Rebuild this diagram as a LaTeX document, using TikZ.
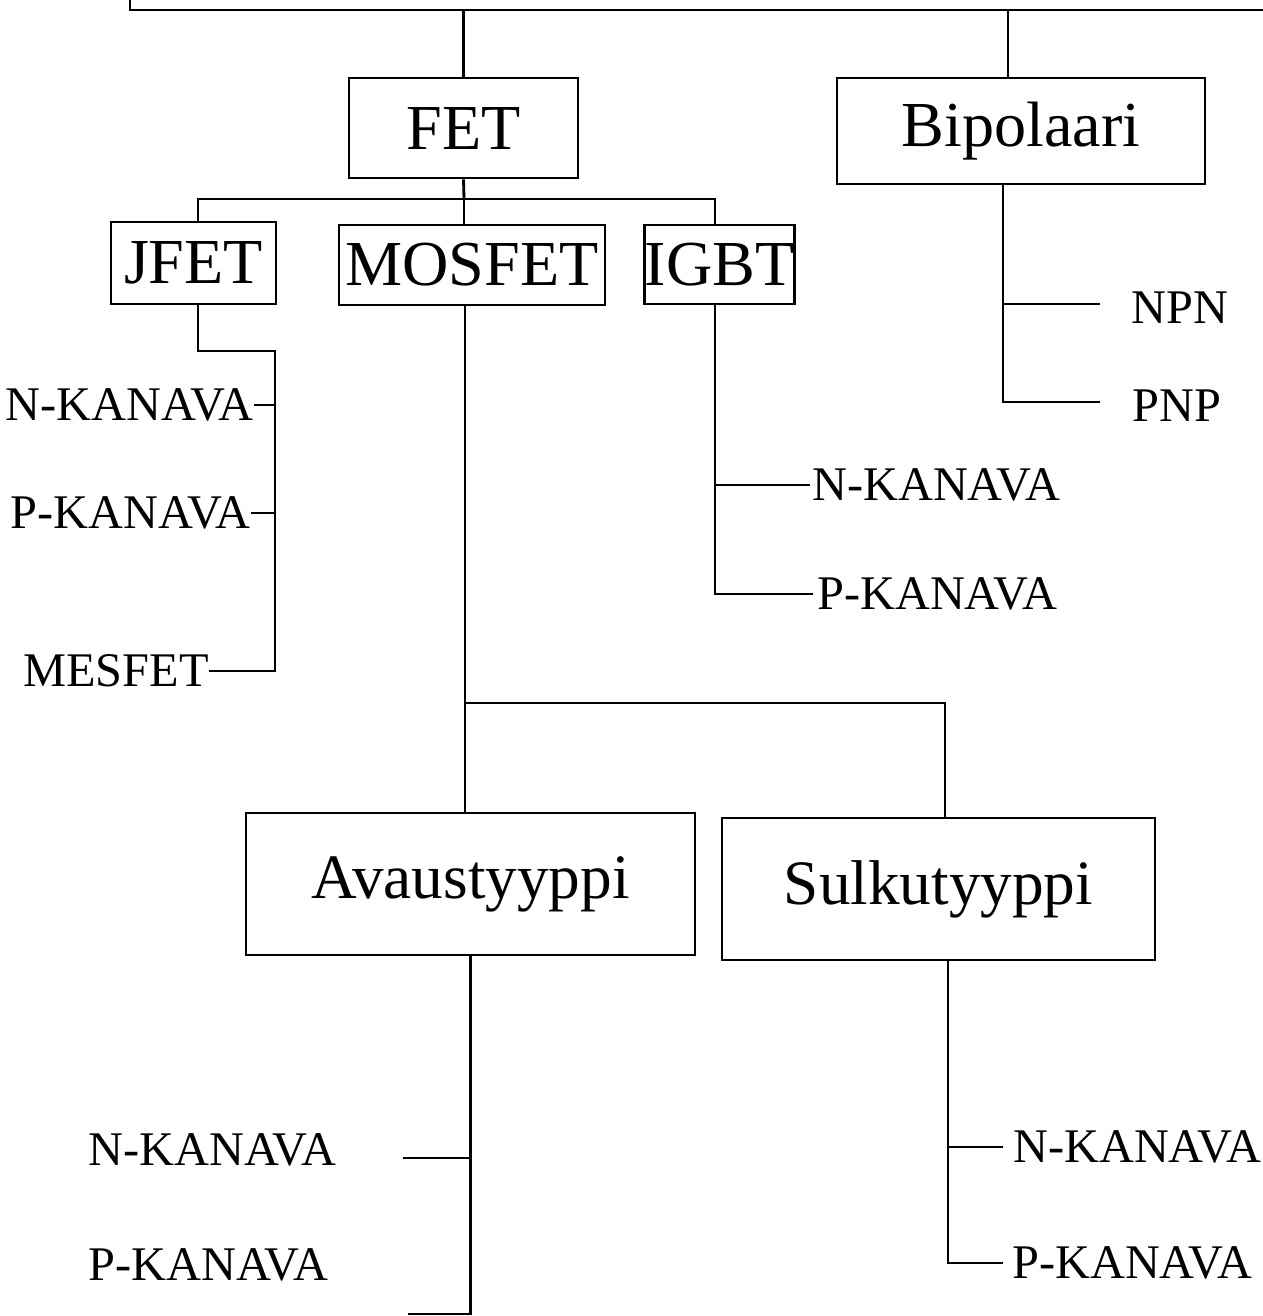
\documentclass[tikz,border=0pt]{standalone}
\usepackage{fontspec}
\setmainfont{Liberation Serif}
\usepackage{tikz}
\usetikzlibrary{calc}
\tikzset{
  box/.style={draw,line width=1.6pt,inner sep=0pt,font=\fontsize{36.5}{40}\selectfont},
  bigbox/.style={box,font=\fontsize{36}{40}\selectfont},
  lbl/.style={inner sep=0pt,font=\fontsize{27.5}{31}\selectfont},
  wire/.style={line width=1.6pt}
}
\begin{document}
\begin{tikzpicture}[x=0.02cm,y=-0.02cm]
\useasboundingbox(0,0)rectangle(1263,1316);
%boxes
\node[box,minimum width=4.58cm,minimum height=2cm](fet)at(463.5,128){FET};
\node[box,minimum width=7.36cm,minimum height=2.12cm](bip)at(1021,131){Bipolaari};
\node[box,minimum width=3.3cm,minimum height=1.64cm](jfet)at(193.5,263){JFET};
\node[box,minimum width=5.32cm,minimum height=1.6cm](mosfet)at(472,265){MOSFET};
\node[box,minimum width=2.9cm,minimum height=1.58cm](igbt)at(719.5,264.5){IGBT};
\node[bigbox,minimum width=8.98cm,minimum height=2.84cm](avaus)at(470.5,884){Avaustyyppi};
\node[bigbox,minimum width=8.66cm,minimum height=2.84cm](sulku)at(938.5,889){Sulkutyyppi};
%labels
\node[lbl,anchor=east](jn)at(254,405){N-KANAVA};
\node[lbl,anchor=east](jp)at(251,513){P-KANAVA};
\node[lbl,anchor=east](jm)at(209,671){MESFET};
\node[lbl,anchor=west](in)at(812,485){N-KANAVA};
\node[lbl,anchor=west](ip)at(817,594){P-KANAVA};
\node[lbl,anchor=west](bn)at(1131,308){NPN};
\node[lbl,anchor=west](bp)at(1132,406){PNP};
\node[lbl](an)at(212.5,1150){N-KANAVA};
\node[lbl](ap)at(208.5,1265){P-KANAVA};
\node[lbl,anchor=west](sn)at(1013,1147){N-KANAVA};
\node[lbl,anchor=west](sp)at(1012,1263){P-KANAVA};
%joints
\coordinate(tl)at(130,0);
\coordinate(tr)at(1263,10);
\coordinate(bx)at(1008,10);
\coordinate(bv)at(1003,0);
\coordinate(jf)at(464,199);
\coordinate(jx)at(198,0);
\coordinate(ix)at(715,0);
\coordinate(jj)at(275,351);
\coordinate(jm2)at(465,703);
\coordinate(sx)at(945,703);
\coordinate(sv)at(948,0);
\coordinate(at)at(403,1158);
\coordinate(ab)at(408,1314);
%lines
\draw[wire](tl)|-(tr);
\draw[wire](fet.north)--(fet.north|-tr);
\draw[wire](bx)--(bx|-bip.north);
\draw[wire](fet.south)--(jf);
\draw[wire](jfet.north-|jx)|-(jf)-|(igbt.north-|ix);
\draw[wire](jf)--(jf|-mosfet.north);
\draw[wire](jfet.south-|jx)|-(jj)|-(jm.east);
\draw[wire](jn.east)--(jn.east-|jj);
\draw[wire](jp.east)--(jp.east-|jj);
\draw[wire](igbt.south-|ix)|-([xshift=-0.08cm]ip.west);
\draw[wire]([xshift=-0.04cm]in.west)--(in.west-|ix);
\draw[wire](bip.south-|bv)|-([xshift=-0.64cm,yshift=0.08cm]bp.west);
\draw[wire]([xshift=-0.62cm,yshift=0.08cm]bn.west)--([yshift=0.08cm]bn.west-|bv);
\draw[wire](mosfet.south-|jm2)--(avaus.north-|jm2);
\draw[wire](jm2)--(sx)--(sx|-sulku.north);
\draw[wire](avaus.south)|-(ab);
\draw[wire](at)--(at-|avaus.south);
\draw[wire](sulku.south-|sv)|-([xshift=-0.18cm]sp.west);
\draw[wire]([xshift=-0.2cm]sn.west)--(sn.west-|sv);
\end{tikzpicture}
\end{document}
